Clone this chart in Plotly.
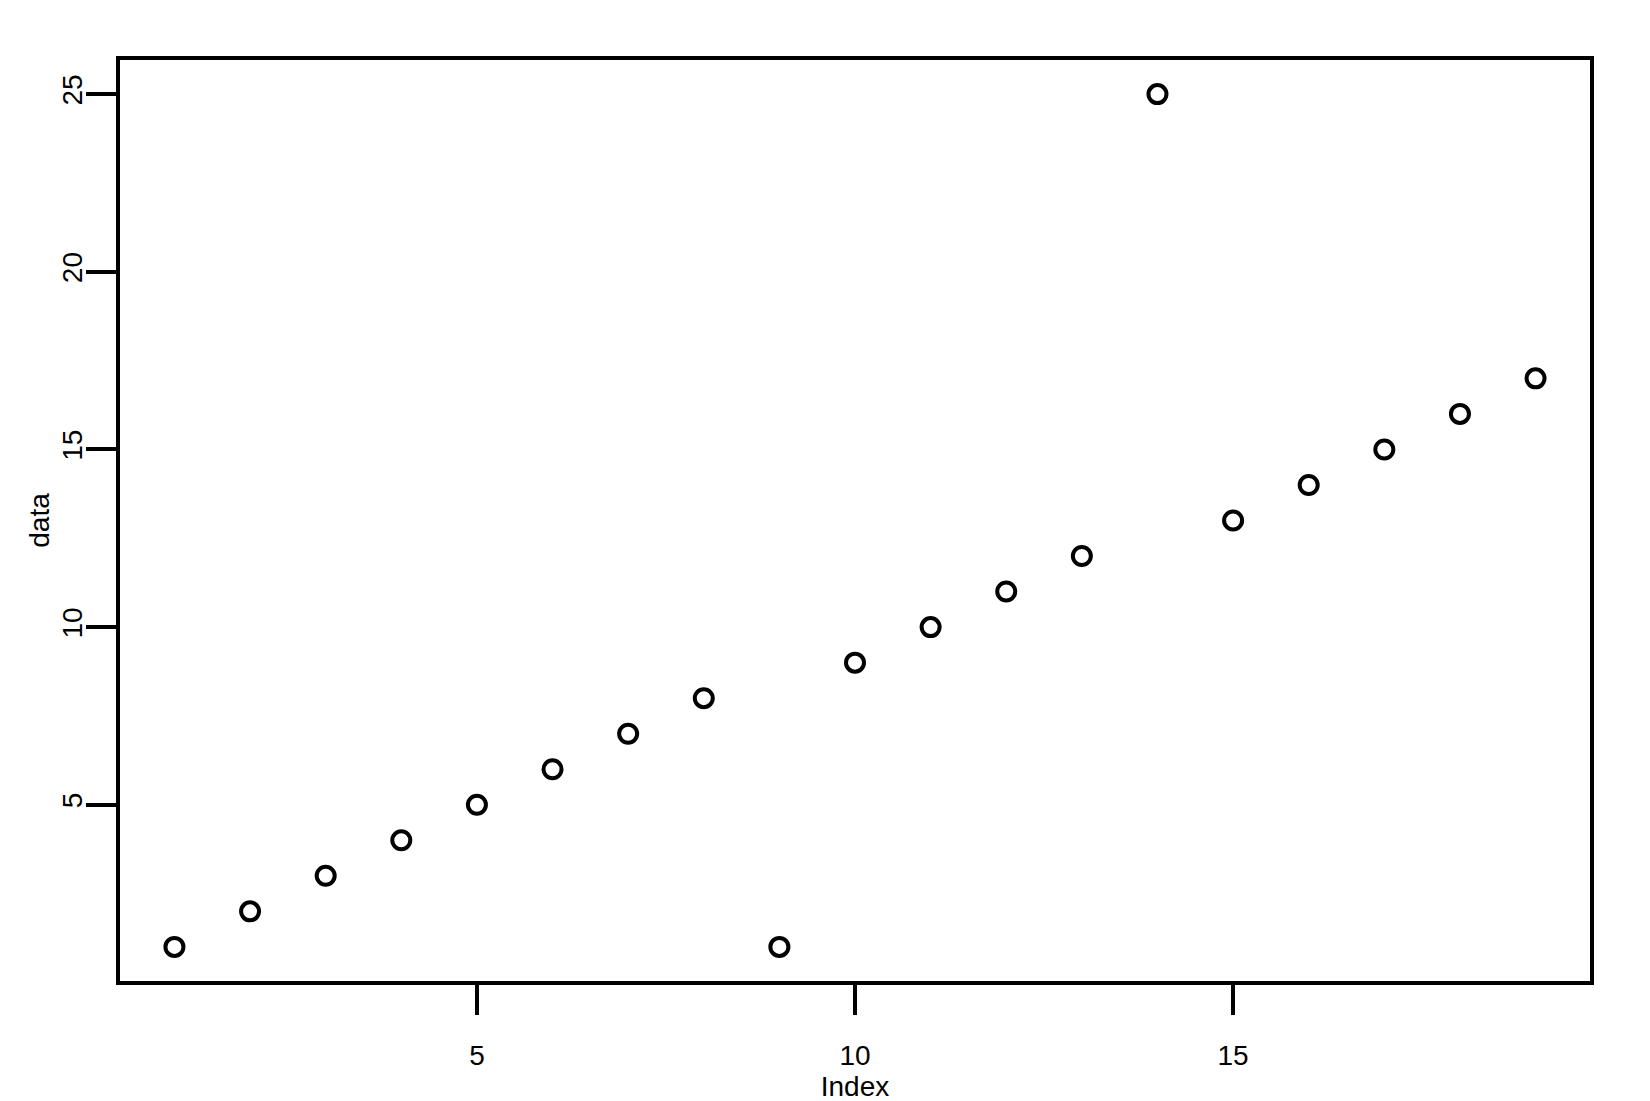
import plotly.graph_objects as go

index = list(range(1, 20))
data = [1, 2, 3, 4, 5, 6, 7, 8, 1, 9, 10, 11, 12, 25, 13, 14, 15, 16, 17]
x_ticks = [5, 10, 15]
y_ticks = [5, 10, 15, 20, 25]

font = dict(family="Liberation Sans, Arial, sans-serif", size=28, color="black")

fig = go.Figure(go.Scatter(
    x=index, y=data, mode="markers",
    marker=dict(symbol="circle-open", size=18, color="black", line=dict(width=4, color="black")),
))

fig.update_layout(
    width=1650, height=1101,
    margin=dict(l=112, r=68, t=52, b=128),
    plot_bgcolor="white", paper_bgcolor="white",
    font=font, showlegend=False,
)
fig.update_xaxes(
    range=[0.28, 19.72], tickvals=x_ticks, ticktext=[str(v) for v in x_ticks],
    showgrid=False, zeroline=False, showline=True, mirror=True, linecolor="black", linewidth=4,
    ticks="outside", ticklen=30, tickwidth=4, tickcolor="black", ticklabelstandoff=16,
    title=dict(text="Index", font=font, standoff=0),
)
fig.update_yaxes(
    range=[0.04, 25.96], tickvals=y_ticks, ticktext=[str(v) for v in y_ticks],
    showgrid=False, zeroline=False, showline=True, mirror=True, linecolor="black", linewidth=4,
    ticks="outside", ticklen=30, tickwidth=4, tickcolor="black", tickangle=-90,
    ticklabelstandoff=-7,
    title=dict(text="data", font=font, standoff=0),
)

fig.write_html("out.html")
